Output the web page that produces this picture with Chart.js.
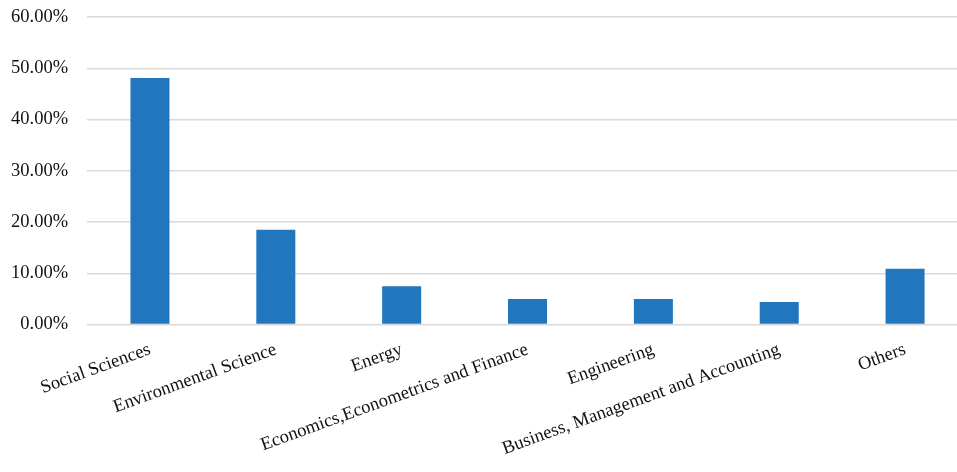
<!DOCTYPE html>
<html>
<head>
<meta charset="utf-8">
<script src="https://cdn.jsdelivr.net/npm/chart.js@4"></script>
<style>
  html, body { margin: 0; padding: 0; background: #fff; overflow: hidden; width: 957px; height: 472px; }
  #wrap { position: absolute; left: -8px; top: -13px; width: 976px; height: 492px; }
</style>
</head>
<body>
<div id="wrap"><canvas id="c" width="976" height="492"></canvas></div>
<script>
const categories = [
  "Social Sciences",
  "Environmental Science",
  "Energy",
  "Economics,Econometrics and Finance",
  "Engineering",
  "Business, Management and Accounting",
  "Others"
];
const shares = [48.1, 18.5, 7.5, 5.0, 5.0, 4.4, 10.9];
const yTicks = [0, 10, 20, 30, 40, 50, 60];

const fontFamily = '"Liberation Serif", "Times New Roman", serif';

new Chart(document.getElementById('c'), {
  type: 'bar',
  data: {
    labels: categories,
    datasets: [{
      data: shares,
      backgroundColor: '#2176BD',
      borderWidth: 0,
      barPercentage: 0.62,
      categoryPercentage: 0.5
    }]
  },
  options: {
    responsive: false,
    animation: false,
    layout: { padding: { top: 0, right: 0, left: 0, bottom: 13 } },
    plugins: { legend: { display: false }, tooltip: { enabled: false } },
    scales: {
      x: {
        grid: { display: false },
        border: { display: false },
        ticks: {
          color: '#111',
          font: { family: fontFamily, size: 18.5 },
          minRotation: 20,
          maxRotation: 20,
          autoSkip: false,
          padding: 6
        }
      },
      y: {
        min: 0,
        max: 60,
        afterBuildTicks: (axis) => { axis.ticks = yTicks.map(v => ({ value: v })); },
        grid: { color: '#D9D9D9', lineWidth: 1.5, drawTicks: false },
        border: { display: false },
        ticks: {
          color: '#111',
          font: { family: fontFamily, size: 18.5 },
          padding: 19,
          callback: (v) => Number(v).toFixed(2) + '%'
        }
      }
    }
  }
});
</script>
</body>
</html>
